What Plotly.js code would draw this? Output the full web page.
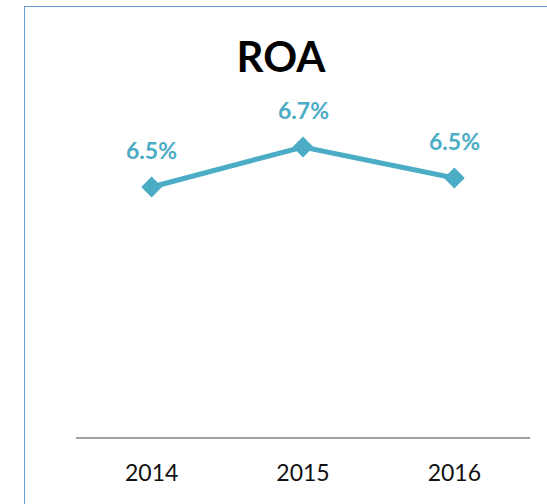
<!DOCTYPE html>
<html>
<head>
<meta charset="utf-8">
<script src="https://cdn.plot.ly/plotly-3.0.1.min.js"></script>
<style>
  html, body { margin: 0; padding: 0; background: #fff; }
  #frame { position: absolute; left: 24px; top: 6px; width: 700px; height: 700px;
           border-left: 1px solid #6A9AD8; border-top: 1px solid #6A9AD8; }
  #chart { position: absolute; left: 0; top: 0; width: 547px; height: 504px; }
</style>
</head>
<body>
<div id="frame"></div>
<div id="chart"></div>
<script>
const years = ["2014", "2015", "2016"];
const roa = [6.50, 6.70, 6.545];
const roaLabels = ["6.5%", "6.7%", "6.5%"];
const chartTitle = "ROA";

const color = "#4BACC6";
const fontFam = "Lato, 'Open Sans', sans-serif";

const trace = {
  x: years,
  y: roa,
  type: "scatter",
  mode: "lines+markers",
  line: { color: color, width: 5 },
  marker: { symbol: "diamond", size: 16, color: color },
  hoverinfo: "none",
  cliponaxis: false
};

const annotations = years.map((yr, i) => ({
  x: i, y: roa[i], xref: "x", yref: "y",
  text: "<b>" + roaLabels[i] + "</b>",
  showarrow: false, yshift: 37,
  xanchor: "center", yanchor: "middle",
  font: { family: fontFam, size: 23, color: color }
}));

const layout = {
  width: 547, height: 504,
  margin: { l: 76, r: 17, t: 100, b: 67 },
  paper_bgcolor: "rgba(0,0,0,0)",
  plot_bgcolor: "rgba(0,0,0,0)",
  showlegend: false,
  title: {
    text: "<b>" + chartTitle + "</b>",
    xref: "container", yref: "container",
    x: 281 / 547, xanchor: "center",
    y: 1 - 57 / 504, yanchor: "middle",
    font: { family: fontFam, size: 42, color: "#000" }
  },
  xaxis: {
    type: "category",
    range: [-0.5, 2.5],
    showgrid: false, zeroline: false,
    showline: true, linecolor: "#A0A0A0", linewidth: 1.5,
    ticks: "", ticklabelstandoff: 15,
    tickfont: { family: fontFam, size: 23, color: "#111" },
    fixedrange: true
  },
  yaxis: {
    range: [5.25, 6.935],
    showgrid: false, zeroline: false, showline: false,
    showticklabels: false, ticks: "",
    fixedrange: true
  },
  annotations: annotations
};

Plotly.newPlot("chart", [trace], layout, { displayModeBar: false, staticPlot: true });
</script>
</body>
</html>
